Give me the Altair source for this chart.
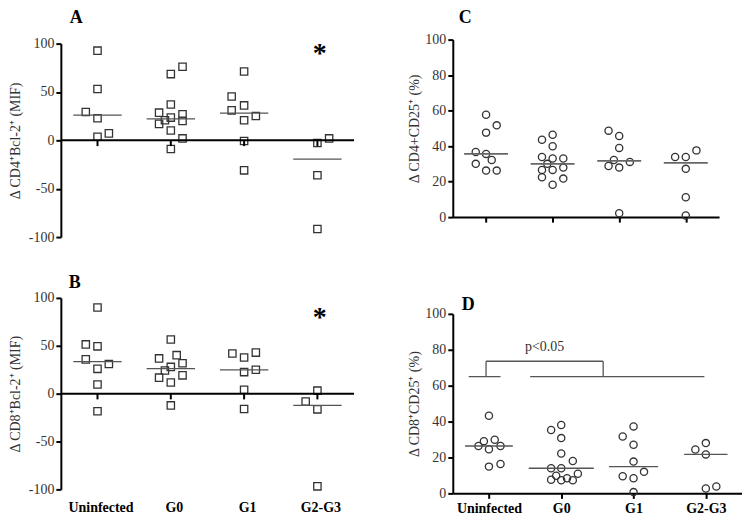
import altair as alt
import pandas as pd

FONT = "Liberation Serif"
groups = ["Uninfected", "G0", "G1", "G2-G3"]

# ---- Panel A: delta CD4+Bcl-2+ (MIF) ----
a_values = {
    "Uninfected": [92.7, 53.1, 29.3, 22.8, 3.7, 7.2],
    "G0": [68.5, 76.0, 28.6, 37.1, 26.9, 17.0, 20.8, 23.5, 20.1, 10.2, 2.0, -8.9],
    "G1": [71.2, 45.3, 31.0, 36.1, 25.2, 20.8, -0.7, -31.0],
    "G2-G3": [-2.7, 2.0, -36.1, -91.6],
}
a_jitter = {
    "Uninfected": [0, 0, -0.16, 0, 0, 0.155],
    "G0": [0, 0.16, -0.16, 0, 0.16, -0.16, -0.08, 0, 0.16, 0, 0.16, 0],
    "G1": [0, -0.17, -0.17, 0, 0.16, 0, 0, 0],
    "G2-G3": [0, 0.16, 0, 0],
}

# ---- Panel B: delta CD8+Bcl-2+ (MIF) ----
b_values = {
    "Uninfected": [90.0, 51.4, 49.4, 35.8, 31.0, 25.9, 9.5, -18.4],
    "G0": [56.6, 36.8, 40.2, 31.7, 27.9, 24.2, 16.7, 19.1, 11.6, -12.3],
    "G1": [41.9, 42.9, 37.8, 22.5, 24.9, 4.1, -16.0],
    "G2-G3": [-8.2, 3.1, -16.4, -96.8],
}
b_jitter = {
    "Uninfected": [0, -0.16, 0, -0.16, 0.155, 0, 0, 0],
    "G0": [0, -0.16, 0.08, 0.16, 0, -0.08, -0.16, 0.16, 0, 0],
    "G1": [-0.16, 0.16, 0, 0, 0.16, 0, 0],
    "G2-G3": [-0.16, 0, 0, 0],
}

# ---- Panel C: delta CD4+CD25+ (%) ----
c_values = {
    "Uninfected": [57.7, 47.6, 51.7, 36.7, 35.6, 32.2, 30.0, 26.2, 26.2],
    "G0": [43.6, 46.4, 39.9, 33.9, 33.0, 33.0, 30.0, 26.6, 26.6, 27.9, 22.5, 21.7, 18.2],
    "G1": [48.7, 45.7, 39.0, 32.2, 31.1, 28.8, 27.9, 2.2],
    "G2-G3": [33.9, 33.9, 37.6, 27.2, 11.2, 0.9],
}
c_jitter = {
    "Uninfected": [0, 0, 0.16, -0.155, 0, 0.085, -0.155, 0, 0.16],
    "G0": [-0.16, 0, 0, -0.16, 0, 0.16, -0.08, -0.16, 0, 0.16, -0.16, 0.16, 0],
    "G1": [-0.16, 0, 0, -0.08, 0.16, -0.16, 0, 0],
    "G2-G3": [-0.16, 0, 0.16, 0, 0, 0],
}

# ---- Panel D: delta CD8+CD25+ (%) ----
d_values = {
    "Uninfected": [43.2, 29.1, 29.9, 26.4, 24.6, 26.4, 14.9, 16.4],
    "G0": [38.1, 35.3, 30.8, 22.2, 18.0, 14.0, 14.0, 10.9, 9.8, 7.6, 7.3, 8.4, 7.3],
    "G1": [31.7, 37.3, 27.1, 17.7, 12.0, 9.5, 8.4, 0.7],
    "G2-G3": [24.4, 28.0, 21.7, 2.7, 3.8],
}
d_jitter = {
    "Uninfected": [0, -0.07, 0.08, -0.145, 0, 0.16, 0, 0.16],
    "G0": [0, -0.14, 0, 0, 0.16, -0.14, 0, 0.23, -0.07, -0.14, 0, 0.08, 0.16],
    "G1": [-0.15, 0, 0, 0, 0.145, -0.15, 0, 0],
    "G2-G3": [-0.145, 0, 0, 0, 0.145],
}

# annotations
star_a = [95]
star_b = [85]
bracket_x = [-0.28, -0.04, -0.04, 1.58, 0.57]
bracket_x2 = [0.16, -0.04, 1.58, 1.58, 2.98]
bracket_y = [65, 65, 73.6, 65, 65]
bracket_y2 = [65, 73.6, 73.6, 73.6, 65]
p_text = ["p<0.05"]


def frame(values, jitter):
    rows = []
    for gi, g in enumerate(groups):
        for v, j in zip(values[g], jitter[g]):
            rows.append({"group": g, "gi": gi, "x": gi + j, "value": v})
    return pd.DataFrame(rows)


def medians(df, half):
    m = df.groupby("gi")["value"].median().reset_index()
    m["x1"] = [gi - half[gi] for gi in m["gi"]]
    m["x2"] = [gi + half[gi] for gi in m["gi"]]
    return m


label_expr = "['Uninfected','G0','G1','G2-G3'][datum.value]"
ylabel_expr = "datum.value < 0 ? '-' + abs(datum.value) : '' + datum.value"
one = pd.DataFrame({"k": [0]})


def panel(df, shape, size, ydom, yvals, ytitle, tpad, letter, lx, ly, w, h,
          xaxis, half, ytop=0, med_color="#555", med_width=1.3,
          zero_line=False, stars=None, bracket=False):
    xs = alt.Scale(domain=[-0.5, 3.5], nice=False, zero=False)
    ys = alt.Scale(domain=ydom, nice=False, zero=False, range=[h, ytop])
    yaxis = alt.Axis(values=yvals, title=ytitle, grid=False, labelExpr=ylabel_expr,
                     titlePadding=tpad)

    def X(f):
        return alt.X(f, type="quantitative", scale=xs, axis=xaxis, title=None)

    def Y(f):
        return alt.Y(f, type="quantitative", scale=ys, axis=yaxis)

    pts = alt.Chart(df).mark_point(
        shape=shape, filled=False, size=size, color="#333", strokeWidth=1.3, opacity=1
    ).encode(x=X("x"), y=Y("value"))
    med = alt.Chart(medians(df, half)).mark_rule(color=med_color, strokeWidth=med_width).encode(
        x=X("x1"), x2="x2:Q", y=Y("value")
    )
    layers = [pts, med]
    if zero_line:
        zl = pd.DataFrame({"x": [-0.5], "x2": [3.5], "y": [0]})
        layers.append(alt.Chart(zl).mark_rule(color="black", strokeWidth=2).encode(
            x=X("x"), x2="x2:Q", y=Y("y")))
        zt = pd.DataFrame({"x": [0, 1, 2, 3], "y": [0] * 4, "y2": [-6] * 4})
        layers.append(alt.Chart(zt).mark_rule(color="black", strokeWidth=2).encode(
            x=X("x"), y=Y("y"), y2="y2:Q"))
    if stars is not None:
        st = pd.DataFrame({"x": [3.03], "y": stars, "t": ["*"]})
        layers.append(alt.Chart(st).mark_text(
            font=FONT, fontSize=28, fontWeight="bold", color="black", baseline="middle", dy=6
        ).encode(x=X("x"), y=Y("y"), text="t:N"))
    if bracket:
        br = pd.DataFrame({"x": bracket_x, "x2": bracket_x2, "y": bracket_y, "y2": bracket_y2})
        layers.append(alt.Chart(br).mark_rule(color="#555", strokeWidth=1.3).encode(
            x=X("x"), x2="x2:Q", y=Y("y"), y2="y2:Q"))
        pt = pd.DataFrame({"x": [0.77], "y": [81.5], "t": p_text})
        layers.append(alt.Chart(pt).mark_text(
            font=FONT, fontSize=14, color="#333", baseline="middle"
        ).encode(x=X("x"), y=Y("y"), text="t:N"))
    lt = alt.Chart(one).mark_text(
        font=FONT, fontSize=18, fontWeight="bold", color="black", align="left",
        baseline="alphabetic"
    ).encode(x=alt.value(lx), y=alt.value(ly), text=alt.value(letter))
    layers.append(lt)
    return alt.layer(*layers).properties(width=w, height=h)


half_std = [0.33, 0.33, 0.33, 0.33]
half_d = [0.33, 0.45, 0.34, 0.3]

axis_none = None
axis_b = alt.Axis(values=[0, 1, 2, 3], labelExpr=label_expr, domain=False, ticks=False,
                  labelFontWeight="bold", labelColor="black", labelPadding=11, grid=False,
                  labelOffset=3)
axis_c = alt.Axis(values=[0, 1, 2, 3], labels=False, grid=False, tickSize=5)
axis_d = alt.Axis(values=[0, 1, 2, 3], labelExpr=label_expr, labelFontWeight="bold",
                  labelColor="black", labelPadding=3, grid=False, tickSize=5)

pA = panel(frame(a_values, a_jitter), "square", 54, [-100, 100], [-100, -50, 0, 50, 100],
           "Δ CD4⁺Bcl-2⁺ (MIF)", 6, "A", 9, -16.5, 294, 198, axis_none, half_std,
           ytop=4, zero_line=True, stars=star_a)
pB = panel(frame(b_values, b_jitter), "square", 54, [-100, 100], [-100, -50, 0, 50, 100],
           "Δ CD8⁺Bcl-2⁺ (MIF)", 6, "B", 8, -10, 294, 192, axis_b, half_std,
           zero_line=True, stars=star_b)
pC = panel(frame(c_values, c_jitter), "circle", 52, [0, 100], [0, 20, 40, 60, 80, 100],
           "Δ CD4+CD25⁺ (%)", 3, "C", 6, -16.5, 267, 178, axis_c, half_std,
           med_color="#666", med_width=1.8)
pD = panel(frame(d_values, d_jitter), "circle", 52, [0, 100], [0, 20, 40, 60, 80, 100],
           "Δ CD8⁺CD25⁺ (%)", 3, "D", 9, -4, 290, 180, axis_d, half_d, bracket=True)

left = alt.vconcat(pA, pB, spacing=30)
right = alt.vconcat(pC, pD, spacing=72)

chart = alt.hconcat(left, right, spacing=53).properties(padding=0).configure_view(
    stroke=None
).configure_axis(
    grid=False, domainColor="black", domainWidth=2, tickColor="black", tickWidth=2,
    tickSize=5, labelFont=FONT, labelFontSize=14, labelColor="#333", titleFont=FONT,
    titleFontSize=14, titleColor="#333", titleFontWeight="normal", labelPadding=2
)

chart.save("out.html", embed_options={"renderer": "svg", "actions": False})
